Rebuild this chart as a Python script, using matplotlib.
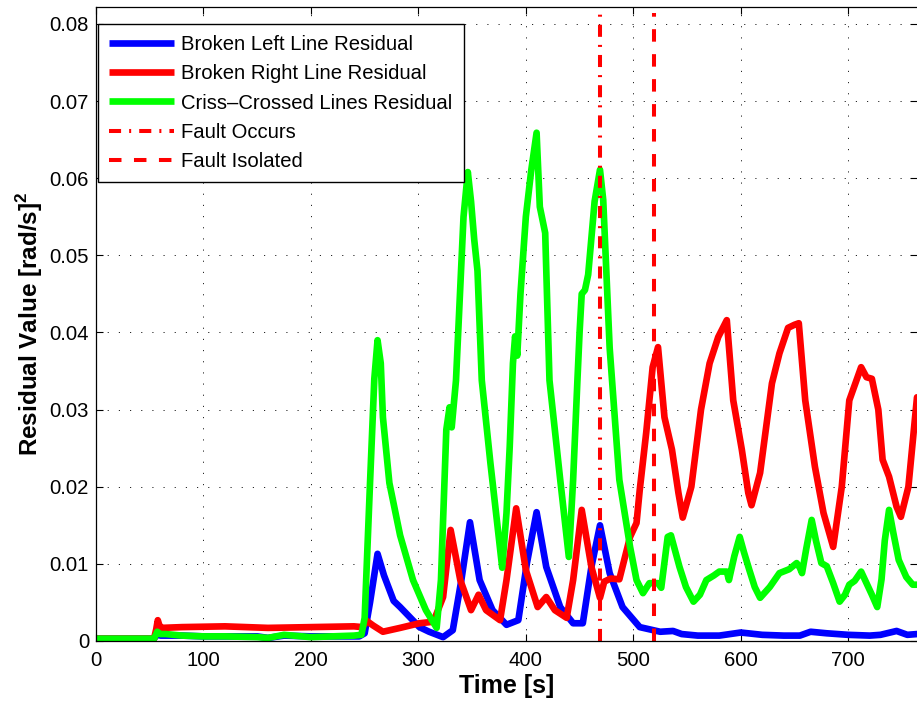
import numpy as np
import matplotlib
matplotlib.use('Agg')
import matplotlib.pyplot as plt

plt.rcParams['font.family'] = ['Liberation Sans', 'DejaVu Sans']
plt.rcParams['mathtext.fontset'] = 'custom'
plt.rcParams['mathtext.bf'] = 'Liberation Sans:bold'
plt.rcParams['mathtext.rm'] = 'Liberation Sans'

# ---- data ----
t_left = [0, 54, 57, 60, 80, 100, 150, 160, 175, 200, 245, 250, 255, 262, 268, 277,
          283, 301, 310, 323, 332, 340, 348, 357, 369, 382, 393, 401, 410, 419, 432,
          444, 453, 461, 469, 478, 490, 506, 525, 537, 545, 560, 580, 600, 620, 640,
          655, 665, 680, 700, 720, 730, 745, 755, 764]
r_left = [0.0003, 0.0003, 0.0009, 0.0007, 0.0007, 0.0006, 0.0006, 0.0004, 0.0007, 0.0006,
          0.0006, 0.001, 0.005, 0.0113, 0.0085, 0.0052, 0.0044, 0.0018, 0.0012, 0.0005,
          0.0014, 0.0079, 0.0154, 0.0079, 0.004, 0.0021, 0.0027, 0.0101, 0.0167, 0.0096,
          0.0044, 0.0023, 0.0023, 0.0096, 0.015, 0.0088, 0.0044, 0.0018, 0.0012, 0.0013,
          0.0009, 0.0007, 0.0007, 0.0011, 0.0008, 0.0007, 0.0007, 0.0012, 0.001, 0.0008,
          0.0007, 0.0008, 0.0013, 0.0008, 0.0009]

t_right = [0, 54, 56, 57.5, 59, 61, 80, 120, 160, 200, 240, 248, 252, 258, 267, 283,
           301, 314, 323, 330, 339, 349, 356, 363, 376, 382, 391, 400, 411, 419, 427,
           438, 444, 452, 461, 469, 473, 479, 487, 497, 503, 506, 512, 518, 523, 529,
           536, 542, 546, 554, 563, 571, 579, 587, 593, 601, 607, 610, 618, 629, 636,
           644, 650, 654, 660, 669, 677, 686, 694, 701, 712, 717, 722, 728, 732, 738,
           745, 749, 756, 764]
r_right = [0.0003, 0.0003, 0.0015, 0.0027, 0.002, 0.0017, 0.0018, 0.0019, 0.0017, 0.0018,
           0.0019, 0.0018, 0.0026, 0.002, 0.0012, 0.0017, 0.0023, 0.0025, 0.0057, 0.0144,
           0.0079, 0.004, 0.006, 0.004, 0.0027, 0.0079, 0.0172, 0.0092, 0.0044, 0.0057,
           0.004, 0.003, 0.0079, 0.017, 0.0096, 0.0056, 0.0077, 0.0081, 0.008, 0.0135,
           0.0153, 0.0196, 0.027, 0.0355, 0.0381, 0.029, 0.0248, 0.0192, 0.016, 0.02,
           0.03, 0.036, 0.0394, 0.0416, 0.0312, 0.0248, 0.0192, 0.0176, 0.0218, 0.0334,
           0.0373, 0.0406, 0.041, 0.0412, 0.0312, 0.0226, 0.0166, 0.0122, 0.02, 0.0312,
           0.0355, 0.0342, 0.034, 0.03, 0.0235, 0.0213, 0.0174, 0.0161, 0.02, 0.0316]

t_cross = [0, 54, 57, 60, 65, 80, 100, 120, 150, 160, 175, 200, 220, 240, 247, 250, 255,
           259, 262, 265, 267, 273, 283, 295, 307, 317, 321, 326, 329, 331, 335, 342,
           346, 349, 352, 355, 359, 367, 378, 382, 385, 388, 390, 392, 395, 400, 405,
           410, 413, 418, 422, 432, 440, 444, 448, 450, 452, 455, 458, 464, 469, 472,
           478, 487, 497, 503, 509, 515, 523, 526, 532, 535, 543, 549, 556, 562, 568,
           575, 580, 587, 589, 594, 599, 603, 608, 613, 618, 627, 636, 645, 652, 655,
           657, 661, 666, 670, 675, 680, 686, 692, 697, 701, 706, 712, 717, 722, 727,
           731, 734, 738, 742, 747, 754, 760, 764]
r_cross = [0.0003, 0.0003, 0.0012, 0.0009, 0.0009, 0.0007, 0.0006, 0.0006, 0.0005, 0.0004,
           0.0008, 0.0005, 0.0006, 0.0007, 0.0008, 0.003, 0.0205, 0.034, 0.039, 0.036,
           0.029, 0.0205, 0.0137, 0.0079, 0.004, 0.0017, 0.0079, 0.0274, 0.0303, 0.0277,
           0.0338, 0.055, 0.0608, 0.057, 0.052, 0.048, 0.0338, 0.0231, 0.0095, 0.0166,
           0.0252, 0.036, 0.0395, 0.037, 0.045, 0.055, 0.061, 0.0659, 0.0563, 0.0529,
           0.0338, 0.0209, 0.0109, 0.0209, 0.0338, 0.040, 0.045, 0.0455, 0.0475, 0.057,
           0.0611, 0.0572, 0.038, 0.0209, 0.0122, 0.0079, 0.0062, 0.0075, 0.0075, 0.0069,
           0.0135, 0.0137, 0.0096, 0.007, 0.0051, 0.006, 0.0079, 0.0085, 0.009, 0.009,
           0.0079, 0.011, 0.0135, 0.0115, 0.0092, 0.007, 0.0056, 0.007, 0.0088, 0.0093,
           0.0101, 0.0095, 0.0088, 0.012, 0.0157, 0.013, 0.0101, 0.0097, 0.0075, 0.0051,
           0.006, 0.0073, 0.0078, 0.009, 0.0075, 0.006, 0.0044, 0.008, 0.013, 0.017,
           0.014, 0.0105, 0.0083, 0.0073, 0.0073]

t_fault = 469
t_isolated = 519

fig = plt.figure(figsize=(9.17, 7.02), dpi=100)
ax = fig.add_axes([96 / 917, 61 / 702, 821 / 917, 634 / 702])

line_kw = dict(lw=4.8, solid_joinstyle='round', solid_capstyle='round')
ax.plot(t_left, r_left, color=(0, 0, 1), label='Broken Left Line Residual', **line_kw)
ax.plot(t_right, r_right, color=(1, 0, 0), label='Broken Right Line Residual', **line_kw)
ax.plot(t_cross, r_cross, color=(0, 1, 0), label='Criss\u2013Crossed Lines Residual', **line_kw)
ax.axvline(t_fault, color=(1, 0, 0), lw=2.9, ls=(0, (3, 2, 0.5, 2)), ymax=0.99,
           label='Fault Occurs')
ax.axvline(t_isolated, color=(1, 0, 0), lw=2.9, ls=(0, (3.1, 3.1)), ymax=0.99,
           label='Fault Isolated')

ax.set_xlim(0, 764)
ax.set_ylim(0, 0.0822)
ax.set_xticks(np.arange(0, 701, 100))
ax.set_yticks(np.arange(0, 0.081, 0.01))
ax.yaxis.set_major_formatter(plt.FuncFormatter(lambda v, p: '%g' % round(v, 4)))
ax.tick_params(direction='in', length=5, width=0.8, top=True, right=True,
               labelsize=14.6, colors='black')
ax.tick_params(axis='x', pad=7)
ax.tick_params(axis='y', pad=5)
ax.grid(True, color='black', ls=(0, (1.4, 12)), lw=0.6)
for s in ax.spines.values():
    s.set_linewidth(0.9)
ax.spines['right'].set_visible(False)

ax.set_xlabel('Time [s]', fontsize=18, fontweight='bold', labelpad=3)
ax.set_ylabel(r'Residual Value [rad/s]$^\mathbf{2}$', fontsize=17.5, fontweight='bold',
              labelpad=3)

leg = ax.legend(loc='upper left', bbox_to_anchor=(0.0025, 0.973), borderaxespad=0,
                fontsize=14.6, fancybox=False, framealpha=1, edgecolor='black',
                handlelength=3.2, handletextpad=0.35, labelspacing=0.5, borderpad=0.55)
leg.get_frame().set_linewidth(1.0)
for h in leg.legend_handles:
    h.set_solid_capstyle('butt')

fig.savefig('out.png', dpi=100)
